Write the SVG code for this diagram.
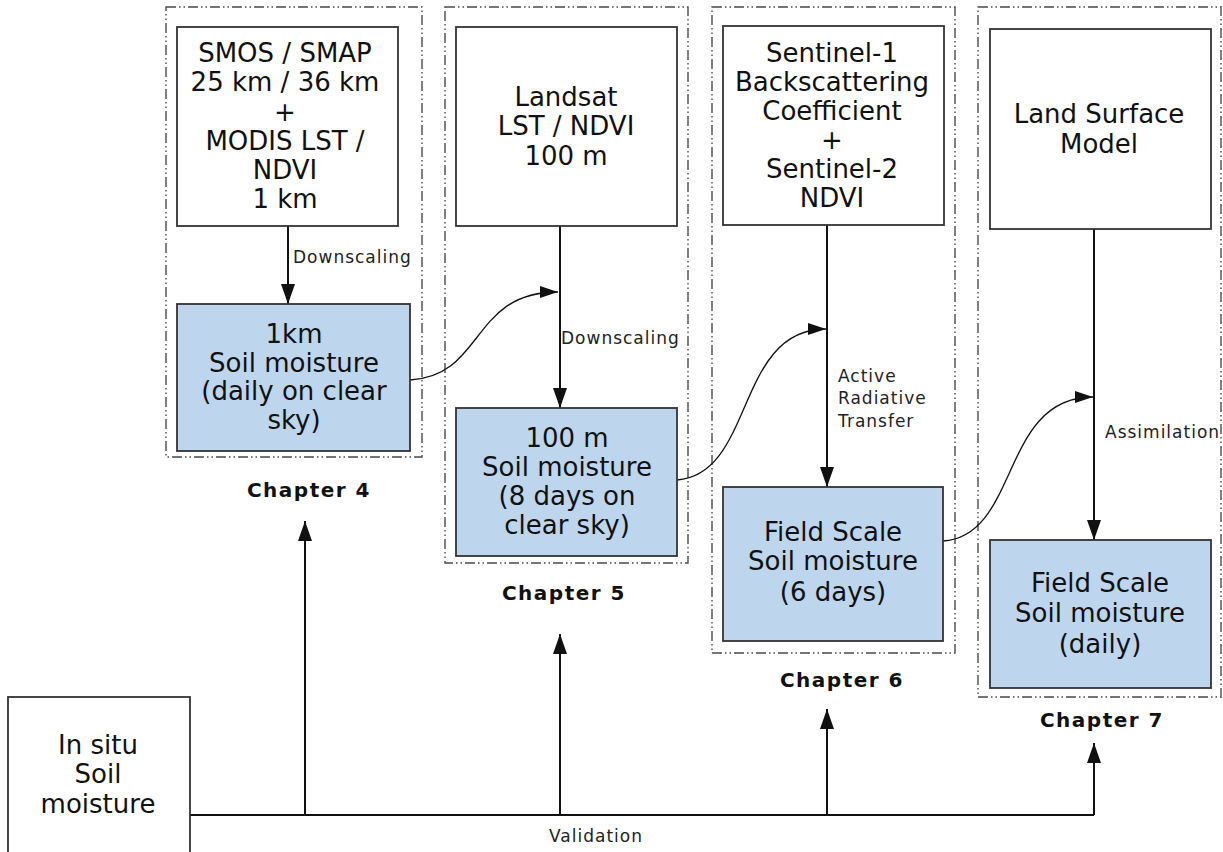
<svg xmlns="http://www.w3.org/2000/svg" width="1223" height="852" viewBox="0 0 1223 852">
<style>
.bg{fill:#fff}
.cont{fill:none;stroke:#4a4a4a;stroke-width:1.4;stroke-dasharray:10,3,1.5,3,1.5,3}
.box{fill:#fff;stroke:#333;stroke-width:1.8}
.blue{fill:#bdd6ee;stroke:#333;stroke-width:1.8}
.t{font-family:"DejaVu Sans",Verdana,sans-serif;font-size:26px;fill:#111;text-anchor:middle}
.lbl{font-family:"DejaVu Sans",Verdana,sans-serif;font-size:17px;fill:#222;letter-spacing:1px}
.ch{font-family:"DejaVu Sans",Verdana,sans-serif;font-size:20px;font-weight:bold;fill:#111;text-anchor:middle;letter-spacing:1.5px}
.ln{fill:none;stroke:#111;stroke-width:2}
.cv{fill:none;stroke:#111;stroke-width:1.3}
</style>
<defs>
<marker id="ah" viewBox="0 0 20 14" refX="20" refY="7" markerWidth="20" markerHeight="14" markerUnits="userSpaceOnUse" orient="auto">
<path d="M0,0 L20,7 L0,14 z" fill="#111"/>
</marker>
<marker id="ahs" viewBox="0 0 18 12" refX="18" refY="6" markerWidth="18" markerHeight="12" markerUnits="userSpaceOnUse" orient="auto">
<path d="M0,0 L18,6 L0,12 z" fill="#111"/>
</marker>
</defs>
<rect class="bg" x="0" y="0" width="1223" height="852"/>

<g id="containers">
<rect class="cont" x="166" y="7" width="256" height="450"/>
<rect class="cont" x="445" y="7" width="243" height="556"/>
<rect class="cont" x="712" y="7" width="243" height="646"/>
<rect class="cont" x="978" y="7" width="243" height="690"/>
</g>

<g id="connectors">
<line class="ln" x1="288" y1="226" x2="288" y2="304" marker-end="url(#ah)"/>
<line class="ln" x1="560" y1="226" x2="560" y2="408" marker-end="url(#ah)"/>
<line class="ln" x1="827" y1="225" x2="827" y2="487" marker-end="url(#ah)"/>
<line class="ln" x1="1094" y1="229" x2="1094" y2="540" marker-end="url(#ah)"/>
<path class="cv" d="M410,380 C485,376 470,292 558,292" marker-end="url(#ahs)"/>
<path class="cv" d="M677,480 C755,474 735,329 826,329" marker-end="url(#ahs)"/>
<path class="cv" d="M943,541 C1020,536 1000,397 1093,397" marker-end="url(#ahs)"/>
<polyline class="ln" points="190,815 1094,815"/>
<line class="ln" x1="305" y1="815" x2="305" y2="521" marker-end="url(#ah)"/>
<line class="ln" x1="560" y1="815" x2="560" y2="634" marker-end="url(#ah)"/>
<line class="ln" x1="827" y1="815" x2="827" y2="709" marker-end="url(#ah)"/>
<line class="ln" x1="1094" y1="815" x2="1094" y2="743" marker-end="url(#ah)"/>
<text class="lbl" x="293" y="263">Downscaling</text>
<text class="lbl" x="561" y="344">Downscaling</text>
<text class="lbl" x="838" y="382">Active</text>
<text class="lbl" x="838" y="404">Radiative</text>
<text class="lbl" x="838" y="427">Transfer</text>
<text class="lbl" x="1105" y="438">Assimilation</text>
<text class="lbl" x="596" y="842" text-anchor="middle">Validation</text>
</g>

<g id="smos">
<rect class="box" x="177" y="27" width="221" height="199"/>
<text class="t" x="285" y="62">SMOS / SMAP</text>
<text class="t" x="285" y="91">25 km / 36 km</text>
<text class="t" x="285" y="121">+</text>
<text class="t" x="285" y="150">MODIS LST /</text>
<text class="t" x="285" y="179">NDVI</text>
<text class="t" x="285" y="208">1 km</text>
</g>
<g id="sm1km">
<rect class="blue" x="177" y="304" width="233" height="147"/>
<text class="t" x="294" y="343">1km</text>
<text class="t" x="294" y="372">Soil moisture</text>
<text class="t" x="294" y="400">(daily on clear</text>
<text class="t" x="294" y="429">sky)</text>
</g>
<g id="ch4"><text class="ch" x="309" y="497">Chapter 4</text></g>

<g id="landsat">
<rect class="box" x="456" y="27" width="221" height="199"/>
<text class="t" x="566" y="106">Landsat</text>
<text class="t" x="566" y="135">LST / NDVI</text>
<text class="t" x="566" y="165">100 m</text>
</g>
<g id="sm100m">
<rect class="blue" x="456" y="408" width="221" height="148"/>
<text class="t" x="567" y="447">100 m</text>
<text class="t" x="567" y="476">Soil moisture</text>
<text class="t" x="567" y="505">(8 days on</text>
<text class="t" x="567" y="534">clear sky)</text>
</g>
<g id="ch5"><text class="ch" x="564" y="600">Chapter 5</text></g>

<g id="sentinel">
<rect class="box" x="723" y="26" width="221" height="199"/>
<text class="t" x="832" y="62">Sentinel-1</text>
<text class="t" x="832" y="91">Backscattering</text>
<text class="t" x="832" y="120">Coefficient</text>
<text class="t" x="832" y="149">+</text>
<text class="t" x="832" y="178">Sentinel-2</text>
<text class="t" x="832" y="207">NDVI</text>
</g>
<g id="smfield6">
<rect class="blue" x="723" y="487" width="220" height="154"/>
<text class="t" x="833" y="541">Field Scale</text>
<text class="t" x="833" y="570">Soil moisture</text>
<text class="t" x="833" y="601">(6 days)</text>
</g>
<g id="ch6"><text class="ch" x="842" y="687">Chapter 6</text></g>

<g id="lsm">
<rect class="box" x="990" y="29" width="221" height="200"/>
<text class="t" x="1099" y="123">Land Surface</text>
<text class="t" x="1099" y="153">Model</text>
</g>
<g id="smdaily">
<rect class="blue" x="990" y="540" width="221" height="148"/>
<text class="t" x="1100" y="592">Field Scale</text>
<text class="t" x="1100" y="622">Soil moisture</text>
<text class="t" x="1100" y="653">(daily)</text>
</g>
<g id="ch7"><text class="ch" x="1102" y="727">Chapter 7</text></g>

<g id="insitu">
<rect class="box" x="8" y="697" width="182" height="160"/>
<text class="t" x="98" y="754">In situ</text>
<text class="t" x="98" y="783">Soil</text>
<text class="t" x="98" y="813">moisture</text>
</g>
</svg>
